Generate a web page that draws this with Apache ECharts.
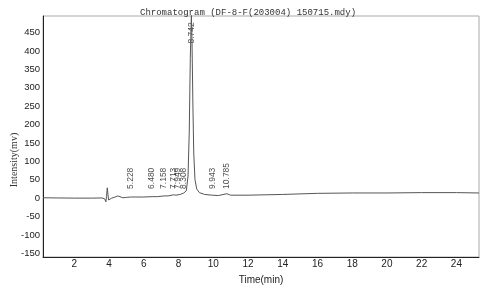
<!DOCTYPE html>
<html><head><meta charset="utf-8">
<script src="https://cdn.jsdelivr.net/npm/echarts@6/dist/echarts.min.js"></script>
<style>html,body{margin:0;padding:0;background:#fff}#c{width:501px;height:290px}</style>
</head><body><div id="c"></div>
<script>
const titleText = "Chromatogram (DF-8-F(203004) 150715.mdy)";
const xTicks = [2,4,6,8,10,12,14,16,18,20,22,24];
const yTicks = [-150,-100,-50,0,50,100,150,200,250,300,350,400,450];
// trace: retention time (min), intensity (mV)
const traceTime = [0.2,1.0,2.0,3.0,3.6,3.75,3.82,3.86,3.9,3.94,3.98,4.05,4.15,4.3,4.5,4.6,4.8,5.0,5.228,5.5,6.0,6.48,6.8,7.158,7.4,7.713,7.85,7.949,8.1,8.308,8.45,8.55,8.62,8.68,8.742,8.78,8.83,8.88,8.95,9.05,9.2,9.5,9.943,10.3,10.785,11.0,12,14,16,18,20,22,24,25.3];
const traceValue = [1,0.5,0,0,0.5,-2,-10,5,28,10,-5,-3,0,2,6,2,1,2,3,3,3,4,4,6,6,9,8,12,10,14,20,60,180,380,500,420,250,120,50,25,15,10,8,7,12,8,8,10,13,14,14,15,15,14];
// peak labels
const peakTimes = [5.228,6.480,7.158,7.713,7.949,8.308,8.742,9.943,10.785];
const peakLabelHeights = [25,25,25,25,25,25,420,25,25];

const chart = echarts.init(document.getElementById('c'), null, {renderer:'canvas'});
chart.setOption({
  animation:false,
  backgroundColor:'#fff',
  title:{text:titleText,left:135,top:3,textStyle:{fontFamily:'Liberation Mono',fontSize:9,fontWeight:'normal',color:'#333'}},
  grid:{left:43,right:22,top:16,bottom:27,show:true,borderColor:'#aaa',borderWidth:1},
  xAxis:{type:'value',min:0.2,max:25.3,
    name:'Time(min)',nameLocation:'middle',nameGap:18,
    nameTextStyle:{fontFamily:'Liberation Sans',fontSize:10,color:'#222'},
    axisLine:{show:true,onZero:false,lineStyle:{color:'#222',width:1}},
    axisTick:{show:false},splitLine:{show:false},
    axisLabel:{customValues:xTicks,fontFamily:'Liberation Sans',fontSize:10,color:'#222',margin:2}},
  yAxis:{type:'value',min:-160,max:495,
    axisLine:{show:true,onZero:false,lineStyle:{color:'#222',width:1}},
    axisTick:{show:false},splitLine:{show:false},
    axisLabel:{customValues:yTicks,fontFamily:'Liberation Sans',fontSize:9.5,color:'#222',margin:3}},
  graphic:[{type:'text',x:14,y:160,rotation:Math.PI/2,
    style:{text:'Intensity(mv)',fontFamily:'Liberation Serif',fontSize:10,fill:'#333',align:'center',verticalAlign:'middle'}}],
  series:[
    {type:'line',data:traceTime.map((t,i)=>[t,traceValue[i]]),showSymbol:false,clip:true,
     lineStyle:{color:'#555',width:1}},
    {type:'scatter',symbolSize:0,data:peakTimes.map((t,i)=>[t,peakLabelHeights[i]]),
     label:{show:true,formatter:p=>p.value[0].toFixed(3),rotate:90,position:'inside',align:'left',verticalAlign:'middle',
       fontFamily:'Liberation Sans',fontSize:8.5,color:'#222'}}
  ]
});
</script></body></html>
